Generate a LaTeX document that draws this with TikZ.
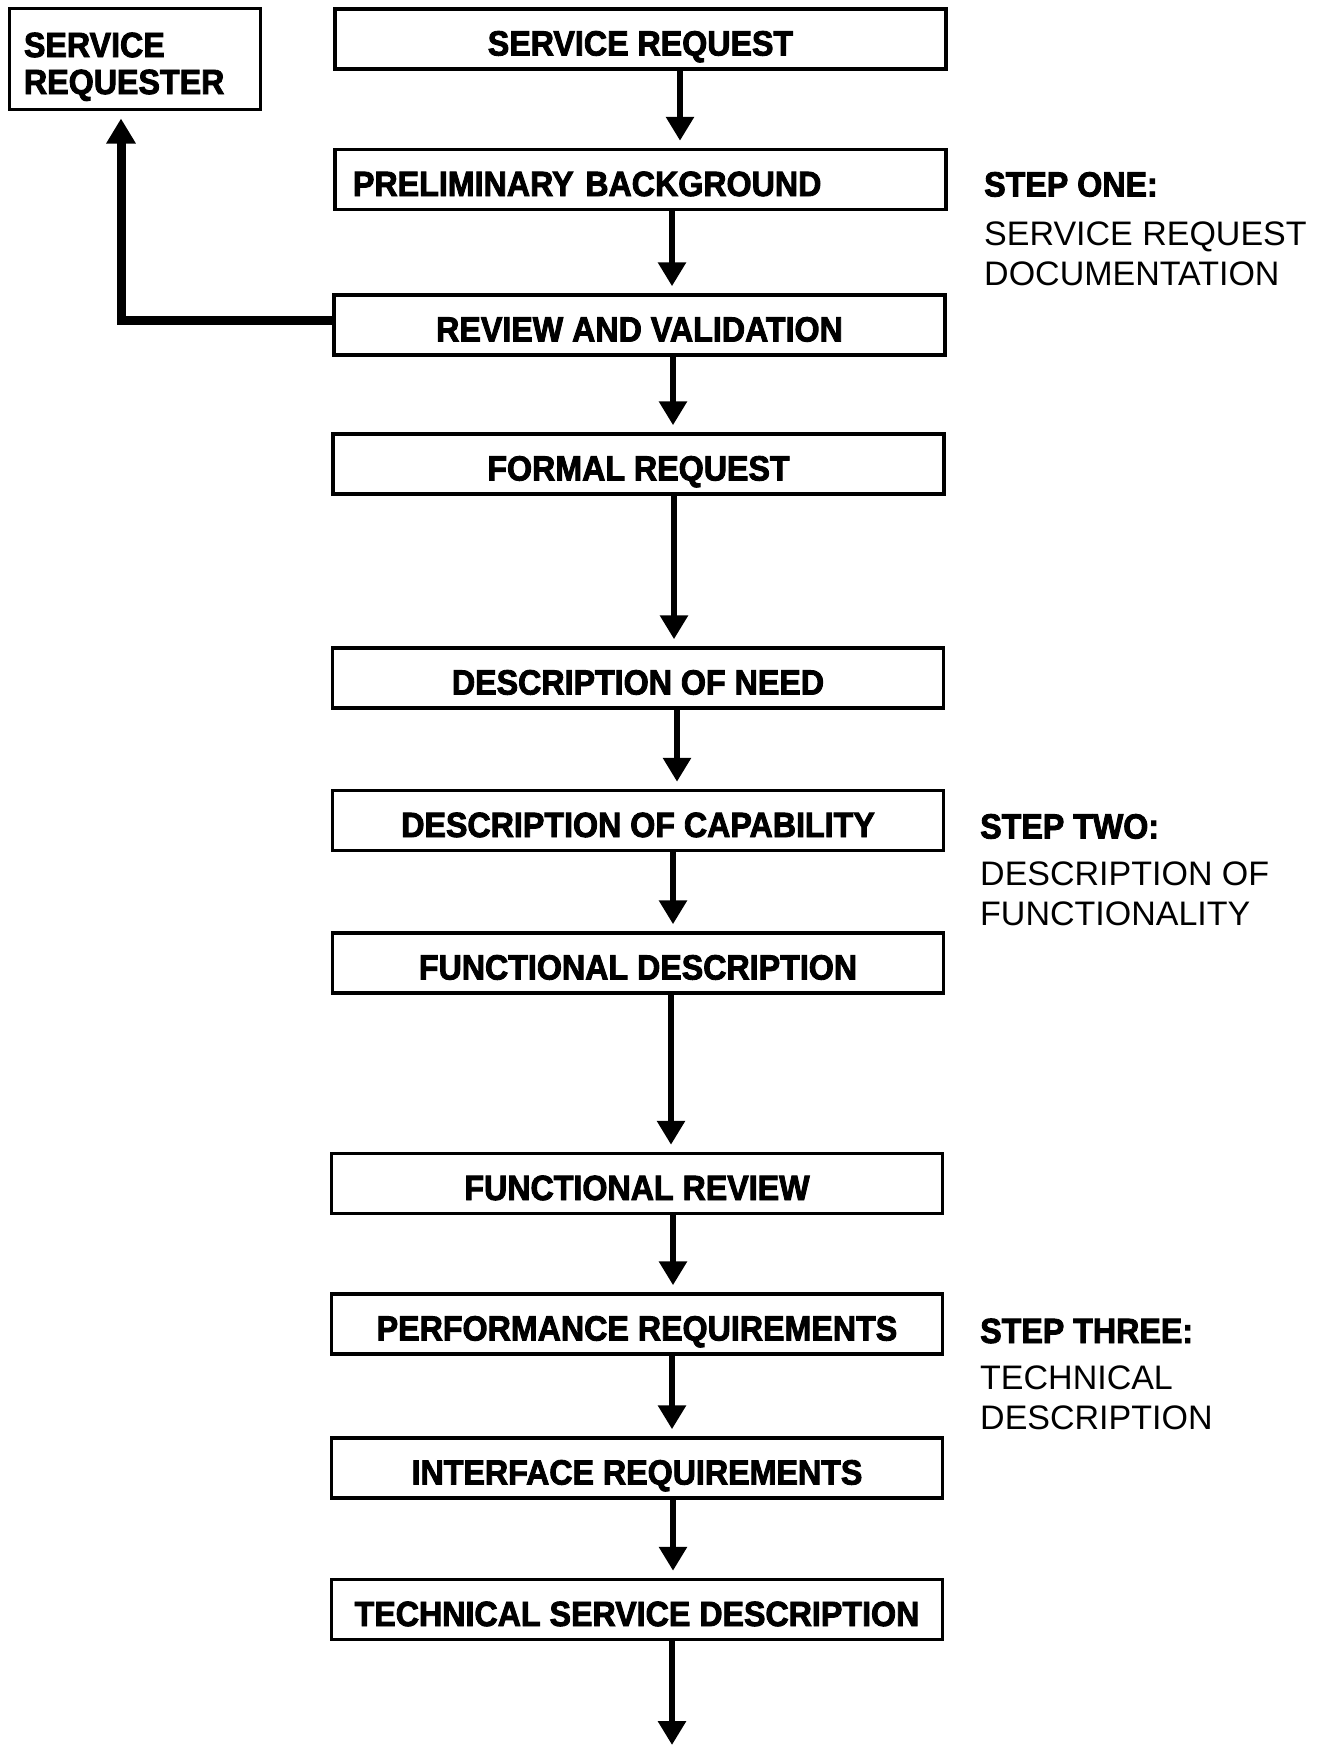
\documentclass[tikz,border=0pt]{standalone}
\usepackage{fontspec}
\setmainfont{Liberation Sans}
\newfontfamily\boxfont[FakeStretch=0.92,FakeBold=2.5]{Liberation Sans Bold}
\usetikzlibrary{arrows.meta,calc}
\begin{document}
\begin{tikzpicture}[x=1pt,y=-1pt,
  box/.style={draw,line width=3.5pt,minimum width=611pt,minimum height=60pt,inner sep=0pt,
    font=\boxfont\fontsize{35}{37}\selectfont,text height=33pt,text depth=0pt},
  flow/.style={line width=6.5pt,-{Triangle[width=27pt,length=24pt]},shorten >=7pt},
  fb/.style={line width=9pt,-{Triangle[width=28pt,length=25pt]}},
  head/.style={anchor=base west,inner sep=0pt,font=\boxfont\fontsize{35}{37}\selectfont},
  body/.style={anchor=north west,inner sep=0pt,align=left,font=\fontsize{34}{40}\selectfont}]
\useasboundingbox (0,0) rectangle (1321,1745);

\node[draw,line width=3pt,minimum width=251pt,minimum height=100pt,inner sep=0pt,
  font=\boxfont\fontsize{35}{37}\selectfont,text width=221pt,align=left]
  (sreq) at (134.5,59) {\rule{0pt}{40pt}SERVICE\\REQUESTER};

\node[box] (sr)  at (640.5,39)  {SERVICE REQUEST};
\node[box,text width=575pt,align=left,inner xsep=18pt] (pb) at (640.5,179.5) {PRELIMINARY BACKGROUND};
\node[box] (rv)  at (639.5,325)   {REVIEW AND VALIDATION};
\node[box] (fr)  at (638.5,464)   {FORMAL REQUEST};
\node[box] (dn)  at (638,678)     {DESCRIPTION OF NEED};
\node[box] (dc)  at (638,820.5)   {DESCRIPTION OF CAPABILITY};
\node[box] (fd)  at (638,963)     {FUNCTIONAL DESCRIPTION};
\node[box] (frv) at (637,1183.5)  {FUNCTIONAL REVIEW};
\node[box] (pr)  at (637,1324)    {PERFORMANCE REQUIREMENTS};
\node[box] (ir)  at (637,1468)    {INTERFACE REQUIREMENTS};
\node[box] (tsd) at (637,1609.5)  {TECHNICAL SERVICE DESCRIPTION};
\coordinate (end) at (672,1745);

\draw[flow] (sr.south -| 680,0) -- (pb.north -| 680,0);
\draw[flow] (pb.south -| 672,0) -- (rv.north -| 672,0);
\draw[flow] (rv.south -| 673,0) -- (fr.north -| 673,0);
\draw[flow] (fr.south -| 674,0) -- (dn.north -| 674,0);
\draw[flow] (dn.south -| 677,0) -- (dc.north -| 677,0);
\draw[flow] (dc.south -| 673,0) -- (fd.north -| 673,0);
\draw[flow] (fd.south -| 671,0) -- (frv.north -| 671,0);
\draw[flow] (frv.south -| 673,0) -- (pr.north -| 673,0);
\draw[flow] (pr.south -| 672,0) -- (ir.north -| 672,0);
\draw[flow] (ir.south -| 673,0) -- (tsd.north -| 673,0);
\draw[flow,shorten >=0pt] (tsd.south -| end) -- (end);

\draw[fb] ([yshift=5pt]rv.west) -| ([xshift=-13.5pt,yshift=-8pt]sreq.south);

\node[head] (h1) at (984,196.5) {STEP ONE:};
\node[body] (b1) at (984,222) {SERVICE REQUEST\\DOCUMENTATION};
\node[head] (h2) at (980,838.5) {STEP TWO:};
\node[body] (b2) at (980,862) {DESCRIPTION OF\\FUNCTIONALITY};
\node[head] (h3) at (980,1343) {STEP THREE:};
\node[body] (b3) at (980,1366) {TECHNICAL\\DESCRIPTION};
\end{tikzpicture}
\end{document}
